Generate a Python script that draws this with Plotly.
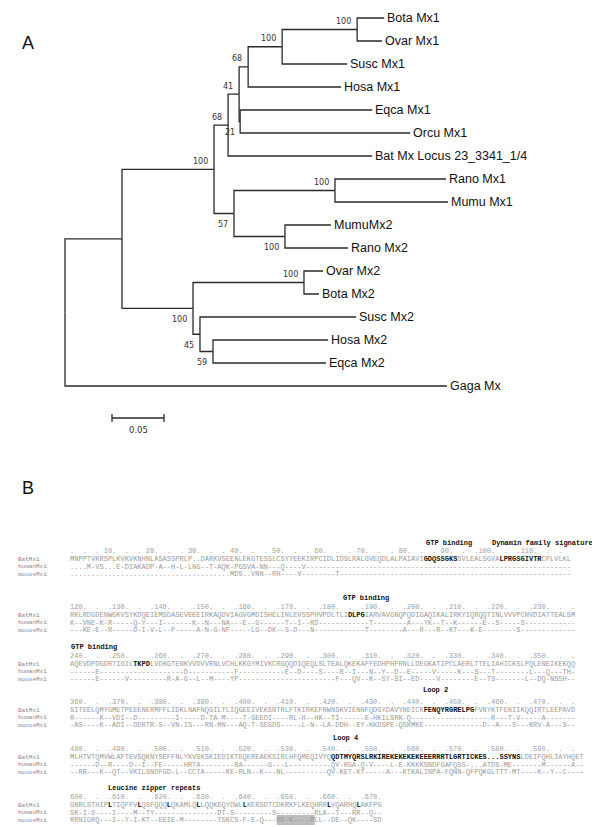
import plotly.graph_objects as go

# ---------------- Panel A: Mx phylogeny ----------------
# leaves from top to bottom, branch lengths in substitutions/site
LEAVES = ["Bota Mx1", "Ovar Mx1", "Susc Mx1", "Hosa Mx1", "Eqca Mx1", "Orcu Mx1",
          "Bat Mx Locus 23_3341_1/4", "Rano Mx1", "Mumu Mx1", "MumuMx2", "Rano Mx2",
          "Ovar Mx2", "Bota Mx2", "Susc Mx2", "Hosa Mx2", "Eqca Mx2", "Gaga Mx"]
LEAF_PARENT = ["F", "F", "E", "D", "G", "G", "B", "I", "I", "J", "J",
               "L", "L", "M", "N", "N", "root"]
LEAF_BRANCH = [0.026, 0.024, 0.0625, 0.0894, 0.127, 0.1635, 0.1385, 0.1067, 0.1087,
               0.0442, 0.0606, 0.0183, 0.0144, 0.150, 0.1106, 0.1087, 0.3673]

# internal nodes
NODES = ["root", "n1", "A", "B", "C", "D", "E", "F", "G", "H", "I", "J", "K", "L", "M", "N"]
NODE_PARENT = [None, "root", "n1", "A", "B", "C", "D", "E", "C", "A", "H", "H", "n1", "K", "K", "M"]
NODE_BRANCH = [0.0, 0.0548, 0.0885, 0.0135, 0.0106, 0.0087, 0.0327, 0.0721, 0.001,
               0.0192, 0.0971, 0.049, 0.0683, 0.1067, 0.0067, 0.0125]
BOOTSTRAP = [None, None, 100, 68, 41, 68, 100, 100, 21, 57, 100, 100, 100, 100, 45, 59]
SCALE_BAR = 0.05

# ---------------- Panel B: alignment ([..] = bold motif) ----------------
FEATURES = [
    [("GTP binding", 418), ("Dynamin family signature", 484)],
    [("GTP binding", 335)],
    [("GTP binding", 63)],
    [("Loop 2", 415)],
    [("Loop 4", 325)],
    [("Leucine zipper repeats", 100)],
]
RULERS = [
    ".  .  . 10.  .  . 20.  .  . 30.  .  . 40.  .  . 50.  .  . 60.  .  . 70.  .  . 80.  .  . 90.  .  .100.  .  .110.  .  .",
    "120.  .  .130.  .  .140.  .  .150.  .  .160.  .  .170.  .  .180.  .  .190.  .  .200.  .  .210.  .  .220.  .  .230.  .  .",
    "240.  .  .250.  .  .260.  .  .270.  .  .280.  .  .290.  .  .300.  .  .310.  .  .320.  .  .330.  .  .340.  .  .350.  .  .",
    "360.  .  .370.  .  .380.  .  .390.  .  .400.  .  .410.  .  .420.  .  .430.  .  .440.  .  .450.  .  .460.  .  .470.  .  .",
    "480.  .  .490.  .  .500.  .  .510.  .  .520.  .  .530.  .  .540.  .  .550.  .  .560.  .  .570.  .  .580.  .  .590.  .  .",
    "600.  .  .610.  .  .620.  .  .630.  .  .640.  .  .650.  .  .660.  .  .670.",
]
BAT = [
    "MNPPTVKRSPLKVKVKNHNLASASSPRLP..DARKVSEENLEKGTESSLCSYYEEKIRPCIDLIDSLRALGVEQDLALPAIAVI[GDQSSGKS]SVLEALSGVA[LPRGSGIVTR]CPLVLKL",
    "RKLRDGDENWGKVSYKDQEIEMSDASEVEEEIRKAQDVIAGVGMDISHELINLEVSSPHVPDLTLI[DLPG]IARVAVGNQPQDIGAQIKALIRKYIQRQQTINLVVVPCNVDIATTEALSM",
    "AQEVDPDGDRTIGIL[TKPD]LVDKGTENKVVDVVRNLVCHLKKGYMIVKCRGQQDIQEQLSLTEALQKEKAFFEDHPHFRNLLDEGKATIPCLAERLTTELIAHICKSLPQLENEIKEKQQ",
    "SITEELQMYGMETPEEENERMFFLIDKLNAFNQGILTLIQGEEIVEKSNTRLFTKIRKEFNWNSKVIENNFQDGYDAVYNEICK[FENQYRGRELPG]FVNYKTFENIIKQQIRTLEEPAVD",
    "MLHTVTQMVWLAFTEVSQKNYSEFFNLYKVSKSKIEDIKTEQEREAEKSIRLHFQMEQIVYQ[QDTMYQRSLRKIREKEKEKEKEEERRRTLGRTICKES...SSYNS]LDEIFQHLIAYHQET",
    "GNRLSTHIP[L]TIQFFV[L]QSFQQQ[L]QKAMLQ[L]LQQKEQYDWL[L]KERSDTCDKRKFLKEQHRR[L]VQARHQ[L]AKFPG",
]
HUMAN = [
    "....M-VS...E-DIAKADP-A--H-L-LNG--T-AQK-PGSVA-NN---Q----V",
    "K--VNE-K-R-----Q-Y---I-------K--N---NA---E--G------T--I--RD------------T--------A---YK--T--K------E--S-----S",
    "------E--------------------D-----------F-----------E--D----S----R--I---N--Y--D--E-----V-----K---S---T--------L---Q---TH-",
    "R------K--VDI--D---------I-----D-TA-M----T-GEEDI----RL-H--HK--TI------E-HKILSRK-Q-------------------R---T-V-----A-------",
    "------D--R----D--I--FE-----HRTA--------RA------G---L----------QV-RGA-Q-V----L-E-KKKKSNDFGAFQSS-...ATDS-ME-------M------A",
    "SK-I-S----I----M--TY---------------DT-S---------S---------RLA--T---RR--Q---",
]
MOUSE = [
    "......................................MDS..VNN--RH----V--------T",
    "---KE-E--R-----D-I-V-L--P-----A-N-G-NF-----LG--DK--S-D---N------------T--------A---R---R--KT---K-E--------S",
    "------E------V---------R-A-G--L--M----YP-----------------------F---QV--K--SY-SI--ED----V--------E--TS-------L--DQ-NSSH-",
    "-AS----K--ADI--DDRTR-S--VN-IS---RN-MN---AQ-T-SEGDS-----L-N--LA-DDH--EY-KKDSPE-QSKMKE--------------D--A---S---KRV-A---S--N",
    "--RR---K--QT--VKILSNDFGD-L--CCTA-----KE-RLN--K---NL----------QV-KET-KT-----A---KTKALINPA-FQNN-QFPQKGLTTT-MT----K--Y--C",
    "RRNIGRQ---I--Y-I-KT--EEIE-M--------TSKCS-F-E-Q---RE-K----RLL--DE--QK----SD",
]
ROW_NAMES = ["BatMx1", "humanMx1", "mouseMx1"]
SHADED = (5, 2, 49, 57)  # block, row, first col, last col (grey box)

# ---------------- layout constants (pixels) ----------------
W, H = 600, 827
ROOT_PX, PX_PER_UNIT = 57, 1040
TOP_PX, ROW_PX = 10, 23
FEATURE_Y = [535, 590, 639, 682, 730, 780]
RULER_Y = [543, 599, 648, 694, 741, 789]
ROW_DY = [8, 15.5, 23]
SEQ_X = 62
CW = 4.22
MONO = "Liberation Mono"

# ---------------- tree geometry ----------------
parent = dict(zip(NODES, NODE_PARENT))
parent.update(zip(LEAVES, LEAF_PARENT))
blen = dict(zip(NODES, NODE_BRANCH))
blen.update(zip(LEAVES, LEAF_BRANCH))
kids = {n: [c for c in NODES + LEAVES if parent[c] == n] for n in NODES}

xpos = {}
def get_x(n):
    if n not in xpos:
        xpos[n] = blen[n] + (get_x(parent[n]) if parent[n] else 0.0)
    return xpos[n]

ypos = {name: i for i, name in enumerate(LEAVES)}
def get_y(n):
    if n not in ypos:
        ys = [get_y(c) for c in kids[n]]
        ypos[n] = (min(ys) + max(ys)) / 2
    return ypos[n]

lx, ly = [], []
for n in NODES:
    for c in kids[n]:
        lx += [get_x(n), get_x(n), get_x(c), None]
        ly += [get_y(n), get_y(c), get_y(c), None]

fig = go.Figure()
fig.add_trace(go.Scatter(x=lx, y=ly, mode="lines", hoverinfo="skip",
                         line=dict(color="#2a2a2a", width=1.3)))

# scale bar
sb_x = (104 - ROOT_PX) / PX_PER_UNIT
sb_y = (410 - TOP_PX) / ROW_PX
tk = 4 / ROW_PX
fig.add_trace(go.Scatter(
    x=[sb_x, sb_x + SCALE_BAR, None, sb_x, sb_x, None, sb_x + SCALE_BAR, sb_x + SCALE_BAR],
    y=[sb_y, sb_y, None, sb_y - tk, sb_y + tk, None, sb_y - tk, sb_y + tk],
    mode="lines", hoverinfo="skip", line=dict(color="#2a2a2a", width=1.3)))

ann = []
ann.append(dict(x=sb_x + SCALE_BAR / 2, y=sb_y, xref="x", yref="y", text=str(SCALE_BAR),
                showarrow=False, yshift=-12, font=dict(family="DejaVu Sans", size=8.5, color="#333")))

for name in LEAVES:
    ann.append(dict(x=get_x(name), y=get_y(name), xref="x", yref="y", text=name,
                    xanchor="left", xshift=1, showarrow=False,
                    font=dict(family="Liberation Sans", size=12.5, color="#111")))

below = {"G", "H", "J", "K", "M", "N"}
for n, b in zip(NODES, BOOTSTRAP):
    if b is None:
        continue
    ann.append(dict(x=get_x(n), y=get_y(n), xref="x", yref="y", text=str(b),
                    xanchor="right", xshift=-3 if n == "G" else -4,
                    yshift=-11 if n in below else 8, showarrow=False,
                    font=dict(family="DejaVu Sans", size=8, color="#333")))

# panel letters
for letter, py in [("A", 23), ("B", 480)]:
    ann.append(dict(x=12 / W, y=1 - py / H, xref="paper", yref="paper", text=letter,
                    showarrow=False, font=dict(family="Liberation Sans", size=18, color="#111")))

# ---------------- alignment text ----------------
def rich(s):
    return (s.replace("[", '<b><span style="color:#111">')
             .replace("]", "</span></b>"))

def txt(text, px, py, size=CW / 0.6, color="#999999"):
    return dict(x=(px - 2) / W, y=1 - py / H, xref="paper", yref="paper", text=text,
                xanchor="left", yanchor="middle", showarrow=False,
                font=dict(family=MONO, size=size, color=color))

for b in range(len(BAT)):
    for label, lxp in FEATURES[b]:
        ann.append(txt("<b>" + label.replace(" ", "\u00a0") + "</b>", lxp, FEATURE_Y[b],
                       size=7, color="#111"))
    ann.append(txt(RULERS[b].replace(" ", "\u00a0"), SEQ_X, RULER_Y[b], color="#a0a0a0"))
    n = len(BAT[b].replace("[", "").replace("]", ""))
    rows = [rich(BAT[b]), HUMAN[b].ljust(n, "-")[:n], MOUSE[b].ljust(n, "-")[:n]]
    for r, (row_name, seq) in enumerate(zip(ROW_NAMES, rows)):
        py = RULER_Y[b] + ROW_DY[r]
        ann.append(txt(row_name, 10, py, size=6, color="#888888"))
        ann.append(txt(seq, SEQ_X, py))

sb, sr, c0, c1 = SHADED
shade_y = RULER_Y[sb] + ROW_DY[sr]
fig.add_shape(type="rect", xref="paper", yref="paper", layer="below",
              x0=(SEQ_X + c0 * CW) / W, x1=(SEQ_X + (c1 + 1) * CW) / W,
              y0=1 - (shade_y + 5) / H, y1=1 - (shade_y - 5) / H,
              fillcolor="#bdbdbd", line=dict(width=0))

fig.update_layout(
    width=W, height=H, margin=dict(l=0, r=0, t=0, b=0),
    plot_bgcolor="white", paper_bgcolor="white", showlegend=False,
    annotations=ann,
    xaxis=dict(visible=False, range=[-ROOT_PX / PX_PER_UNIT, (W - ROOT_PX) / PX_PER_UNIT]),
    yaxis=dict(visible=False, range=[(H - TOP_PX) / ROW_PX, -TOP_PX / ROW_PX]),
)

fig.write_html("out.html")
